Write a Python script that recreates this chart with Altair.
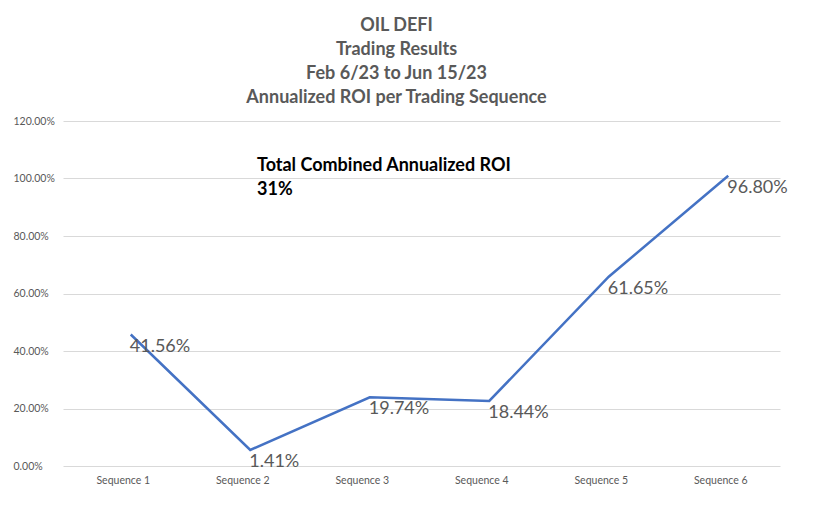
import altair as alt
import pandas as pd

categories = ["Sequence 1", "Sequence 2", "Sequence 3", "Sequence 4", "Sequence 5", "Sequence 6"]
roi_values = [0.4156, 0.0141, 0.1974, 0.1844, 0.6165, 0.9680]
roi_labels = ["41.56%", "1.41%", "19.74%", "18.44%", "61.65%", "96.80%"]
title_lines = ["OIL DEFI", "Trading Results", "Feb 6/23 to Jun 15/23", "Annualized ROI per Trading Sequence"]
note_lines = ["Total Combined Annualized ROI", "31%"]
y_ticks = [0.0, 0.2, 0.4, 0.6, 0.8, 1.0, 1.2]

df = pd.DataFrame({"seq": categories, "roi": roi_values, "label": roi_labels})

FONT = "Lato"
GRAY = "#595959"

x = alt.X(
    "seq:N",
    sort=categories,
    scale=alt.Scale(type="point", padding=0.5),
    axis=alt.Axis(title=None, labelAngle=0, ticks=False, tickSize=0, domain=False, grid=False,
                  labelPadding=9, labelFontSize=10.5, labelColor=GRAY, labelFont=FONT),
)
y = alt.Y(
    "roi:Q",
    scale=alt.Scale(domain=[0, 1.2], nice=False),
    axis=alt.Axis(title=None, values=y_ticks, format=".2%", labelAlign="left", labelPadding=50,
                  ticks=False, tickSize=0, domain=False, gridColor="#d9d9d9", gridWidth=1,
                  labelFontSize=10.5, labelColor=GRAY, labelFont=FONT),
)

base = alt.Chart(df)
line = base.mark_line(color="#4472C4", strokeWidth=2.5, xOffset=8, yOffset=-12).encode(x=x, y=y)
labels = base.mark_text(align="left", baseline="middle", dx=7, fontSize=18, color=GRAY, font=FONT).encode(
    x=x, y=y, text="label:N"
)
note = base.transform_filter("datum.seq == 'Sequence 1'").mark_text(
    text=note_lines, align="left", baseline="alphabetic", fontSize=18, fontWeight="bold",
    color="#000000", font=FONT, lineHeight=24,
).encode(x=alt.value(194), y=alt.value(50))

chart = alt.layer(line, labels, note).properties(
    width=717,
    height=345,
    background="white",
    autosize=alt.AutoSizeParams(type="none"),
    padding={"left": 55, "top": 113, "right": 39, "bottom": 39},
    title=alt.TitleParams(text=title_lines, anchor="middle", fontSize=18, font=FONT, fontWeight="bold",
                          color=GRAY, lineHeight=24, offset=9, dx=-25),
).configure_view(strokeWidth=0, stroke=None)

chart.save("out.html", embed_options={"renderer": "svg", "actions": False})
